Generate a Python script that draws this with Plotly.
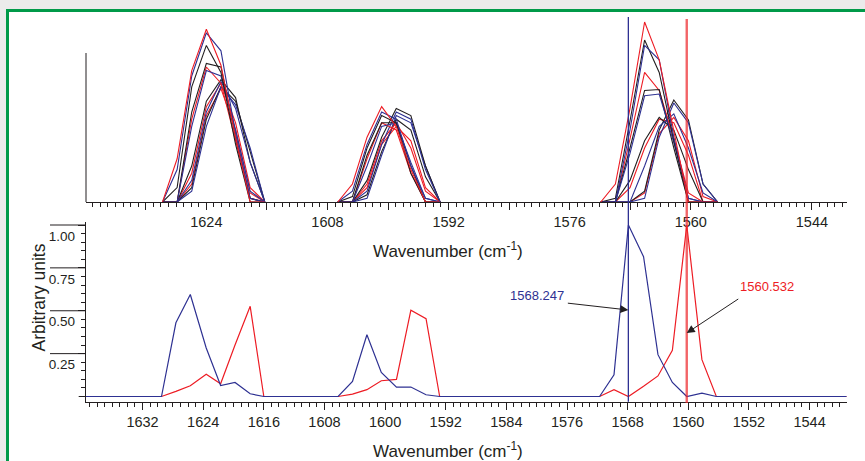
import plotly.graph_objects as go

W, H = 865, 461
INK = "#231f20"
RED = "#ed1c24"
BLUE = "#2e3192"
BLACK = "#231f20"
GREEN = "#009a49"
FONT = "Liberation Sans, Arial, sans-serif"

# ---------------- top panel: overlaid spectra ----------------
top_wn = [1629.79, 1627.86, 1625.93, 1624.00, 1622.07, 1620.14, 1618.21, 1616.28, None,
          1606.63, 1604.70, 1602.77, 1600.84, 1598.91, 1596.98, 1595.05, 1593.12, None,
          1571.89, 1569.96, 1568.03, 1566.10, 1564.17, 1562.24, 1560.31, 1558.38, 1556.45]

a_red = [0.00, 0.24, 0.73, 0.96, 0.76, 0.36, 0.00, 0.00, None,
         0.00, 0.10, 0.36, 0.53, 0.42, 0.18, 0.00, 0.00, None,
         0.00, 0.10, 0.52, 1.00, 0.79, 0.40, 0.00, 0.00, 0.00]
a_black = [0.00, 0.08, 0.64, 0.87, 0.72, 0.32, 0.00, 0.00, None,
           0.00, 0.03, 0.30, 0.48, 0.44, 0.16, 0.00, 0.00, None,
           0.00, 0.02, 0.45, 0.90, 0.72, 0.34, 0.00, 0.00, 0.00]
a_blue = [0.00, 0.18, 0.70, 0.94, 0.84, 0.38, 0.02, 0.00, None,
          0.00, 0.06, 0.32, 0.50, 0.46, 0.20, 0.02, 0.00, None,
          0.00, 0.00, 0.40, 0.87, 0.79, 0.36, 0.02, 0.00, 0.00]
b_red = [0.00, 0.00, 0.46, 0.75, 0.66, 0.34, 0.02, 0.00, None,
         0.00, 0.00, 0.24, 0.44, 0.40, 0.16, 0.00, 0.00, None,
         0.00, 0.00, 0.35, 0.72, 0.62, 0.35, 0.05, 0.00, 0.00]
b_black = [0.00, 0.00, 0.50, 0.77, 0.75, 0.36, 0.02, 0.00, None,
           0.00, 0.00, 0.26, 0.44, 0.44, 0.20, 0.00, 0.00, None,
           0.00, 0.00, 0.30, 0.62, 0.625, 0.30, 0.00, 0.00, 0.00]
b_blue = [0.00, 0.00, 0.42, 0.73, 0.70, 0.40, 0.06, 0.00, None,
          0.00, 0.00, 0.20, 0.42, 0.44, 0.22, 0.02, 0.00, None,
          0.00, 0.00, 0.27, 0.59, 0.60, 0.33, 0.02, 0.00, 0.00]
c_red = [0.00, 0.00, 0.16, 0.53, 0.66, 0.44, 0.08, 0.00, None,
         0.00, 0.00, 0.10, 0.34, 0.44, 0.30, 0.06, 0.00, None,
         0.00, 0.00, 0.08, 0.30, 0.46, 0.44, 0.26, 0.00, 0.00]
c_black = [0.00, 0.00, 0.20, 0.56, 0.68, 0.58, 0.22, 0.00, None,
           0.00, 0.00, 0.12, 0.36, 0.52, 0.48, 0.20, 0.00, None,
           0.00, 0.00, 0.12, 0.34, 0.47, 0.40, 0.18, 0.00, 0.00]
c_blue = [0.00, 0.00, 0.12, 0.50, 0.67, 0.52, 0.22, 0.00, None,
          0.00, 0.00, 0.06, 0.32, 0.50, 0.46, 0.18, 0.00, None,
          0.00, 0.00, 0.00, 0.20, 0.42, 0.49, 0.30, 0.05, 0.00]
d_red = [0.00, 0.00, 0.10, 0.48, 0.63, 0.40, 0.05, 0.00, None,
         0.00, 0.00, 0.08, 0.32, 0.42, 0.34, 0.08, 0.00, None,
         0.00, 0.00, 0.00, 0.05, 0.38, 0.47, 0.34, 0.03, 0.00]
d_black = [0.00, 0.00, 0.08, 0.46, 0.64, 0.56, 0.28, 0.00, None,
           0.00, 0.00, 0.04, 0.28, 0.46, 0.40, 0.14, 0.00, None,
           0.00, 0.00, 0.00, 0.06, 0.40, 0.567, 0.456, 0.10, 0.00]
d_blue = [0.00, 0.00, 0.06, 0.42, 0.64, 0.54, 0.30, 0.00, None,
          0.00, 0.00, 0.02, 0.26, 0.48, 0.44, 0.20, 0.00, None,
          0.00, 0.00, 0.00, 0.02, 0.36, 0.55, 0.44, 0.10, 0.00]

top_series = [(d_red, RED), (d_black, BLACK), (d_blue, BLUE),
              (c_red, RED), (c_black, BLACK), (c_blue, BLUE),
              (b_red, RED), (b_black, BLACK), (b_blue, BLUE),
              (a_black, BLACK), (a_blue, BLUE), (a_red, RED)]

# top axis: long ticks every 8 cm-1, a label on every second one (1544, 1560, ... 1624)
top_tick0 = 1544
top_dtick = 8

# ---------------- bottom panel: two difference spectra ----------------
bot_wn = [1639.5,
          1629.5, 1627.6, 1625.7, 1623.6, 1621.7, 1619.8, 1617.8, 1616.0,
          1606.2, 1604.3, 1602.4, 1600.5, 1598.5, 1596.6, 1594.6, 1592.8,
          1571.7, 1569.8, 1567.9, 1565.9, 1564.0, 1562.1, 1560.2, 1558.2, 1556.3,
          1539.1]
bot_blue = [0.0,
            0.0, 0.43, 0.595, 0.283, 0.064, 0.082, 0.016, 0.0,
            0.0, 0.088, 0.36, 0.14, 0.055, 0.055, 0.01, 0.0,
            0.0, 0.127, 1.0, 0.815, 0.244, 0.082, 0.0, 0.02, 0.0,
            0.0]
bot_red = [0.0,
           0.0, 0.03, 0.063, 0.13, 0.074, 0.30, 0.526, 0.0,
           0.0, 0.014, 0.04, 0.092, 0.10, 0.503, 0.454, 0.0,
           0.0, 0.04, 0.0, 0.06, 0.12, 0.27, 1.0, 0.215, 0.0,
           0.0]

bot_tickvals = [1632, 1624, 1616, 1608, 1600, 1592, 1584, 1576, 1568, 1560, 1552, 1544]
y_tickvals = [0.25, 0.50, 0.75, 1.00]
y_ticktext = ["0.25", "0.50", "0.75", "1.00"]

peak_blue = 1568.247
peak_red = 1560.532


def px(x):
    return x / W


def py(y):
    return 1 - y / H


fig = go.Figure()
for ys, col in top_series:
    fig.add_trace(go.Scatter(x=top_wn, y=ys, mode="lines", xaxis="x", yaxis="y",
                             line=dict(color=col, width=1.1), connectgaps=False,
                             hoverinfo="skip"))

fig.add_trace(go.Scatter(x=bot_wn, y=bot_red, mode="lines", xaxis="x2", yaxis="y2",
                         line=dict(color=RED, width=1.2), hoverinfo="skip"))
fig.add_trace(go.Scatter(x=bot_wn, y=bot_blue, mode="lines", xaxis="x2", yaxis="y2",
                         line=dict(color=BLUE, width=1.2), hoverinfo="skip"))

tickfont = dict(family=FONT, size=14.5, color=INK)

fig.update_layout(
    template="none",
    width=W, height=H, autosize=False, margin=dict(l=0, r=0, t=0, b=0, pad=0, autoexpand=False),
    paper_bgcolor="white", plot_bgcolor="rgba(0,0,0,0)", showlegend=False,
    xaxis=dict(domain=[px(86), px(846.7)], range=[1639.9, 1539.4], anchor="y", automargin=False,
               tickmode="linear", tick0=top_tick0, dtick=top_dtick, ticklabelstep=2,
               ticks="outside", ticklen=7, tickwidth=1, tickcolor=INK,
               showline=True, linecolor=INK, linewidth=1, showgrid=False, zeroline=False,
               tickfont=tickfont,
               minor=dict(tickmode="linear", tick0=1544, dtick=1, ticks="outside",
                          ticklen=4, tickwidth=1, tickcolor=INK, showgrid=False)),
    yaxis=dict(domain=[py(202), py(12)], range=[0, 190 / 180], visible=False, automargin=False),
    xaxis2=dict(domain=[px(85.7), px(846.7)], range=[1639.5, 1539.1], anchor="y2", automargin=False,
                tickmode="array", tickvals=bot_tickvals,
                ticks="outside", ticklen=7, tickwidth=1, tickcolor=INK,
                showline=True, linecolor=INK, linewidth=1, showgrid=False, zeroline=False,
                tickfont=tickfont,
                minor=dict(tickmode="linear", tick0=1544, dtick=1, ticks="outside",
                           ticklen=4, tickwidth=1, tickcolor=INK, showgrid=False)),
    yaxis2=dict(domain=[py(401.7), py(221.5)], range=[-0.0303, 1.0204], anchor="x2", automargin=False,
                tickmode="array", tickvals=y_tickvals, ticktext=y_ticktext,
                ticks="outside", ticklen=7, tickwidth=1, tickcolor=INK,
                showline=True, linecolor=INK, linewidth=1, showgrid=False, zeroline=False,
                tickfont=dict(family=FONT, size=13.5, color=INK), ticklabelshift=11,
                minor=dict(tickmode="linear", tick0=0, dtick=0.05, ticks="outside",
                           ticklen=4, tickwidth=1, tickcolor=INK, showgrid=False)),
)

shapes = []
# frame shadow + green border
shapes.append(dict(type="rect", xref="paper", yref="paper", x0=0, x1=1, y0=py(9), y1=1,
                   fillcolor="#ebebeb", line=dict(width=0), layer="below"))
shapes.append(dict(type="rect", xref="paper", yref="paper", x0=0, x1=px(6), y0=0, y1=1,
                   fillcolor="#ebebeb", line=dict(width=0), layer="below"))
shapes.append(dict(type="line", xref="paper", yref="paper", x0=px(6), x1=1, y0=py(10.5), y1=py(10.5),
                   line=dict(color=GREEN, width=3)))
shapes.append(dict(type="line", xref="paper", yref="paper", x0=px(7.5), x1=px(7.5), y0=0, y1=py(9),
                   line=dict(color=GREEN, width=3)))
# top panel y axis line
shapes.append(dict(type="line", xref="paper", yref="paper", x0=px(86), x1=px(86), y0=py(202), y1=py(53),
                   line=dict(color=INK, width=1)))
# short unlabeled tick at zero, long major tick bars on the bottom y axis
shapes.append(dict(type="line", xref="paper", yref="y2", x0=px(78.7), x1=px(85.7), y0=0, y1=0,
                   line=dict(color=INK, width=1)))
for v in y_tickvals:
    shapes.append(dict(type="line", xref="paper", yref="y2", x0=px(50), x1=px(85.7), y0=v, y1=v,
                       line=dict(color=INK, width=1)))
# peak position lines
shapes.append(dict(type="line", xref="x", yref="paper", x0=peak_blue, x1=peak_blue,
                   y0=py(401.7), y1=py(17), line=dict(color=BLUE, width=1.3)))
shapes.append(dict(type="line", xref="x", yref="paper", x0=peak_red, x1=peak_red,
                   y0=py(403), y1=py(19), line=dict(color="rgba(237,40,45,0.72)", width=2.4)))
fig.update_layout(shapes=shapes)

ann = []
common = dict(xref="paper", yref="paper", showarrow=False, xanchor="center", yanchor="middle")
ann.append(dict(text="Wavenumber (cm<sup>-1</sup>)", x=px(448), y=py(250),
                font=dict(family=FONT, size=17, color=INK), **common))
ann.append(dict(text="Wavenumber (cm<sup>-1</sup>)", x=px(448), y=py(450),
                font=dict(family=FONT, size=17, color=INK), **common))
ann.append(dict(text="Arbitrary units", x=px(38.5), y=py(298), textangle=-90,
                font=dict(family=FONT, size=17.5, color=INK), **common))
ann.append(dict(text="%.3f" % peak_blue, x=px(536.7), y=py(295),
                font=dict(family=FONT, size=13, color=BLUE), **common))
ann.append(dict(text="%.3f" % peak_red, x=px(766.7), y=py(286),
                font=dict(family=FONT, size=13, color=RED), **common))
ann.append(dict(text="", xref="x", yref="paper", x=peak_blue, y=py(310), ax=-62, ay=-7,
                showarrow=True, arrowhead=2, arrowsize=1.6, arrowwidth=1, arrowcolor=INK))
ann.append(dict(text="", xref="x", yref="paper", x=peak_red, y=py(333), ax=53, ay=-35,
                showarrow=True, arrowhead=2, arrowsize=1.6, arrowwidth=1, arrowcolor=INK))
fig.update_layout(annotations=ann)

fig.write_html("out.html", config={"displayModeBar": False, "staticPlot": True},
               post_script="document.body.style.margin='0';document.body.style.overflow='hidden';")
